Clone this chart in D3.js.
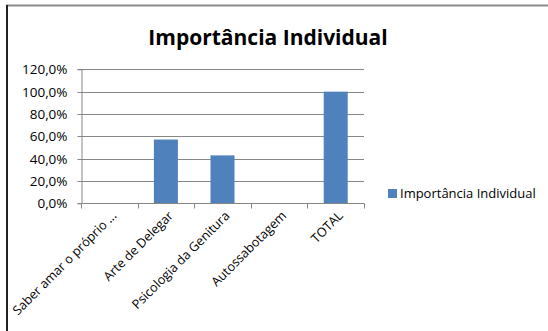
<!DOCTYPE html>
<html><head><meta charset="utf-8">
<script src="https://d3js.org/d3.v7.min.js"></script>
<style>body{margin:0;background:#fff}svg{display:block}</style>
</head><body>
<script>
const categories = ["Saber amar o próprio ...", "Arte de Delegar", "Psicologia da Genitura", "Autossabotagem", "TOTAL"];
const values = [0, 0.571, 0.429, 0, 1.0];
const yTicks = [0, 0.2, 0.4, 0.6, 0.8, 1.0, 1.2];
const seriesName = "Importância Individual";
const title = "Importância Individual";

const W = 548, H = 331;
const svg = d3.select("body").append("svg").attr("width", W).attr("height", H);
const font = "'Open Sans', sans-serif";

// clipped caption glyph above frame
svg.append("text").attr("x", 156).attr("y", -6).attr("font-family", "'Liberation Serif', serif")
  .attr("font-size", 22).attr("fill", "#000").text("p");

// frame
svg.append("line").attr("x1", 6).attr("x2", W).attr("y1", 5.5).attr("y2", 5.5).attr("stroke", "#8a8a8a").attr("stroke-width", 2);
svg.append("line").attr("x1", 7).attr("x2", 7).attr("y1", 5).attr("y2", H).attr("stroke", "#222").attr("stroke-width", 2);

const xb = d3.scaleBand().domain(categories).range([81, 364]);
const y = d3.scaleLinear().domain([0, 1.2]).range([203.3, 69.3]);

// grid
svg.append("g").selectAll("line").data(yTicks).join("line")
  .attr("x1", 81).attr("x2", 364).attr("y1", d => Math.round(y(d)) + 0.5).attr("y2", d => Math.round(y(d)) + 0.5)
  .attr("stroke", "#868686").attr("stroke-width", 1);

// y axis
const yAxis = d3.axisLeft(y).tickValues(yTicks).tickSize(4)
  .tickFormat(d => (d * 100).toFixed(1).replace(".", ",") + "%");
const gy = svg.append("g").attr("transform", "translate(81.5,0)").call(yAxis);
gy.select(".domain").attr("stroke", "#868686");
gy.selectAll(".tick line").attr("stroke", "#868686");
gy.selectAll(".tick").attr("transform", d => `translate(0,${Math.round(y(d)) + 0.5})`);
gy.selectAll("text").attr("font-family", font).attr("font-size", 13.5).attr("fill", "#000").attr("x", -14);

// bars
svg.append("g").selectAll("rect").data(categories.map((c, i) => ({c, v: values[i]}))).join("rect")
  .attr("x", d => xb(d.c) + xb.bandwidth() / 2 - 12)
  .attr("width", 24)
  .attr("y", d => y(d.v)).attr("height", d => y(0) - y(d.v))
  .attr("fill", "#4F81BD");

// x axis
const gx = svg.append("g").attr("transform", `translate(0,${Math.round(y(0)) + 0.5})`);
gx.append("line").attr("x1", 81).attr("x2", 364).attr("stroke", "#868686");
const edges = d3.range(categories.length + 1).map(i => 81 + i * xb.step());
gx.selectAll(".tk").data(edges).join("line").attr("class", "tk")
  .attr("x1", d => Math.round(d) + 0.5).attr("x2", d => Math.round(d) + 0.5).attr("y1", 0).attr("y2", 5)
  .attr("stroke", "#868686");
gx.selectAll(".lbl").data(categories).join("text").attr("class", "lbl")
  .attr("transform", d => `translate(${xb(d) + xb.bandwidth() / 2 + 8},${13}) rotate(-45)`)
  .attr("text-anchor", "end").attr("font-family", font).attr("font-size", 12.7).attr("fill", "#000")
  .text(d => d);

// title
svg.append("text").attr("x", 268).attr("y", 45).attr("text-anchor", "middle")
  .attr("font-family", font).attr("font-weight", "bold").attr("font-size", 21).attr("fill", "#000").text(title);

// legend
svg.append("rect").attr("x", 388).attr("y", 189).attr("width", 9).attr("height", 9).attr("fill", "#4F81BD");
svg.append("text").attr("x", 400).attr("y", 198).attr("font-family", font).attr("font-size", 13).attr("fill", "#000").text(seriesName);
</script>
</body></html>
